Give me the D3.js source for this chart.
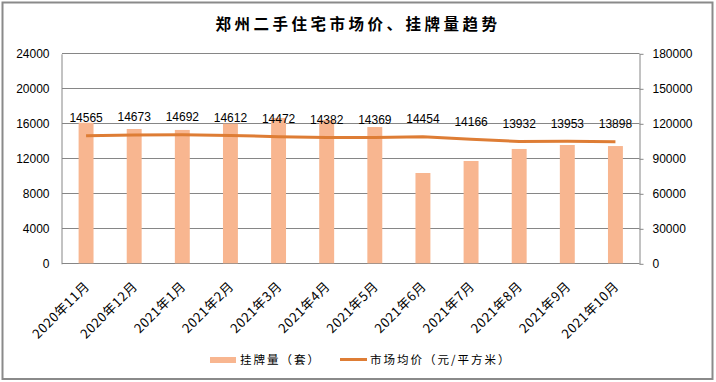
<!DOCTYPE html>
<html>
<head>
<meta charset="utf-8">
<script src="https://cdn.jsdelivr.net/npm/d3@7"></script>
<style>
  body { margin: 0; background: #fff; }
  text { font-family: 'Liberation Sans', Arial, sans-serif; }
  .cjk { font-family: 'Noto Sans CJK SC', sans-serif; }
</style>
</head>
<body>
<div id="chart"></div>
<script>
'use strict';

const months = ['2020年11月', '2020年12月', '2021年1月', '2021年2月', '2021年3月', '2021年4月',
  '2021年5月', '2021年6月', '2021年7月', '2021年8月', '2021年9月', '2021年10月'];
// 挂牌量（套） - right axis
const listings = [120500, 115100, 114300, 119700, 124600, 122800, 116800, 77400, 87700, 98000, 101400, 100500];
// 市场均价（元/平方米） - left axis
const prices = [14565, 14673, 14692, 14612, 14472, 14382, 14369, 14454, 14166, 13932, 13953, 13898];
const leftTicks = [0, 4000, 8000, 12000, 16000, 20000, 24000];
const rightTicks = [0, 30000, 60000, 90000, 120000, 150000, 180000];

const W = 716, H = 382;
const plot = { left: 62, right: 639.5, top: 53.3, bottom: 263.3 };
const barColor = '#F8B690';
const lineColor = '#DE7D35';
const gridColor = '#868686';

const svg = d3.select('#chart').append('svg')
  .attr('width', W)
  .attr('height', H);

// outer frame
svg.append('rect')
  .attr('x', 2.5).attr('y', 2.5)
  .attr('width', 710).attr('height', 376.5)
  .attr('fill', 'none')
  .attr('stroke', '#8a8a8a')
  .attr('stroke-width', 2);

svg.append('text')
  .attr('class', 'cjk')
  .attr('x', 358).attr('y', 26)
  .attr('text-anchor', 'middle')
  .attr('dominant-baseline', 'middle')
  .attr('font-size', 15.5)
  .attr('font-weight', 'bold')
  .attr('letter-spacing', 3.5)
  .text('郑州二手住宅市场价、挂牌量趋势');

const x = d3.scaleBand().domain(months).range([plot.left, plot.right]);
const yL = d3.scaleLinear().domain([0, 24000]).range([plot.bottom, plot.top]);
const yR = d3.scaleLinear().domain([0, 180000]).range([plot.bottom, plot.top]);

// gridlines
svg.append('g').selectAll('line')
    .data(leftTicks)
  .enter().append('line')
    .attr('x1', plot.left).attr('x2', plot.right)
    .attr('y1', d => Math.round(yL(d)) + 0.5)
    .attr('y2', d => Math.round(yL(d)) + 0.5)
    .attr('stroke', gridColor);

// left axis
const gL = svg.append('g')
  .attr('transform', 'translate(' + (plot.left - 0.5) + ',0.5)')
  .call(d3.axisLeft(yL).tickValues(leftTicks).tickSize(0).tickPadding(12).tickFormat(d3.format('d')));
gL.select('.domain').attr('stroke', gridColor);
gL.selectAll('text').attr('font-size', 12).attr('font-family', "'Liberation Sans', Arial, sans-serif").attr('fill', '#000');

// right axis
const gR = svg.append('g')
  .attr('transform', 'translate(' + (plot.right) + ',0.5)')
  .call(d3.axisRight(yR).tickValues(rightTicks).tickSize(4).tickSizeOuter(0).tickPadding(9).tickFormat(d3.format('d')));
gR.select('.domain').attr('stroke', gridColor);
gR.selectAll('line').attr('stroke', gridColor);
gR.selectAll('text').attr('font-size', 12).attr('font-family', "'Liberation Sans', Arial, sans-serif").attr('fill', '#000');

// bars
const barW = x.bandwidth() * 0.31;
svg.append('g').selectAll('rect')
    .data(listings)
  .enter().append('rect')
    .attr('x', (d, i) => x(months[i]) + x.bandwidth() / 2 - barW / 2)
    .attr('y', d => yR(d))
    .attr('width', barW)
    .attr('height', d => plot.bottom - yR(d))
    .attr('fill', barColor);

// line
const line = d3.line()
  .x((d, i) => x(months[i]) + x.bandwidth() / 2)
  .y(d => yL(d));
svg.append('path')
  .datum(prices)
  .attr('d', line)
  .attr('fill', 'none')
  .attr('stroke', lineColor)
  .attr('stroke-width', 3);

// line labels
svg.append('g').selectAll('text')
    .data(prices)
  .enter().append('text')
    .attr('x', (d, i) => x(months[i]) + x.bandwidth() / 2)
    .attr('y', d => yL(d) - 13.5)
    .attr('text-anchor', 'middle')
    .attr('font-size', 12)
    .text(d => d);

// x labels
svg.append('g').selectAll('text')
    .data(months)
  .enter().append('text')
    .attr('class', 'cjk')
    .attr('transform', d => 'translate(' + (x(d) + x.bandwidth() / 2 + 1) + ',284) rotate(-45)')
    .attr('text-anchor', 'end')
    .attr('dy', '0.35em')
    .attr('font-size', 13)
    .attr('letter-spacing', 0.6)
    .text(d => d);

// legend
const lg = svg.append('g');
lg.append('rect')
  .attr('x', 210).attr('y', 357)
  .attr('width', 26).attr('height', 6)
  .attr('fill', barColor);
lg.append('text')
  .attr('class', 'cjk')
  .attr('x', 240).attr('y', 360.5)
  .attr('dominant-baseline', 'middle')
  .attr('font-size', 11.5)
  .attr('letter-spacing', 2)
  .text('挂牌量（套）');
lg.append('line')
  .attr('x1', 340).attr('x2', 367)
  .attr('y1', 359.5).attr('y2', 359.5)
  .attr('stroke', lineColor)
  .attr('stroke-width', 3);
lg.append('text')
  .attr('class', 'cjk')
  .attr('x', 370).attr('y', 360.5)
  .attr('dominant-baseline', 'middle')
  .attr('font-size', 11.5)
  .attr('letter-spacing', 2)
  .text('市场均价（元/平方米）');
</script>
</body>
</html>
